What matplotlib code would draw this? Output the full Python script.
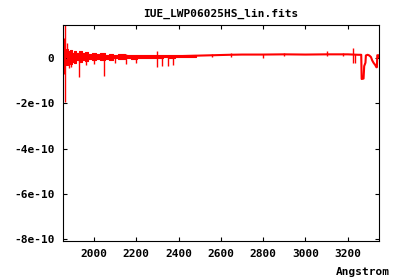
import numpy as np
import matplotlib
matplotlib.use("Agg")
import matplotlib.pyplot as plt

# overall trend of the spectrum (flux in units of 1e-10)
wave = [1852, 1900, 2000, 2100, 2200, 2300, 2400, 2480, 2560, 2640, 2700,
        2800, 2900, 3000, 3100, 3200, 3250, 3264, 3266, 3275, 3278, 3284,
        3286, 3294, 3302, 3310, 3316, 3322, 3330, 3336, 3338, 3340, 3346,
        3349]
flux = [0.05, 0.05, 0.08, 0.08, 0.07, 0.08, 0.09, 0.11, 0.13, 0.15, 0.16,
        0.16, 0.17, 0.16, 0.17, 0.17, 0.15, 0.15, -0.92, -0.9, -0.35, -0.2,
        0.12, 0.15, 0.12, 0.05, -0.1, -0.2, -0.3, -0.4, -0.4, 0.13, 0.13,
        0.05]

# envelope of the noisy band on the blue side
band_w = [1852, 1860, 1870, 1880, 1890, 1900, 1910, 1920, 1935, 1950, 1965,
          1980, 2000, 2020, 2040, 2060, 2080, 2100, 2130, 2160, 2190, 2220,
          2250, 2280, 2310, 2340, 2370, 2400, 2440, 2480]
band_hi = [0.45, 0.3, 0.4, 0.3, 0.35, 0.25, 0.3, 0.25, 0.3, 0.22, 0.27, 0.2,
           0.25, 0.18, 0.22, 0.16, 0.2, 0.15, 0.18, 0.14, 0.16, 0.13, 0.15,
           0.12, 0.14, 0.12, 0.13, 0.12, 0.12, 0.12]
band_lo = [-0.5, -0.2, -0.3, -0.15, -0.25, -0.15, -0.2, -0.1, -0.15, -0.08,
           -0.12, -0.05, -0.1, -0.03, -0.08, -0.02, -0.06, 0.0, -0.04, 0.0,
           -0.03, 0.02, 0.0, 0.03, 0.01, 0.04, 0.03, 0.05, 0.05, 0.06]

# single-pixel spikes
spike_w = [1856, 1863, 1872, 1880, 1890, 1929, 1960, 2000, 2047, 2100, 2150,
           2200, 2298, 2322, 2350, 2374, 2560, 2650, 2799, 2900, 3102, 3180,
           3224, 3234]
spike_lo = [-0.7, -1.95, -0.3, -0.45, -0.4, -0.83, -0.3, -0.25, -0.79, -0.2,
            -0.25, -0.2, -0.4, -0.35, -0.35, -0.3, 0.05, 0.05, 0.0, 0.1, 0.1,
            0.1, -0.2, -0.2]
spike_hi = [0.9, 1.6, 0.65, 0.3, 0.3, 0.2, 0.2, 0.2, 0.1, 0.15, 0.2, 0.15,
            0.3, 0.1, 0.1, 0.1, 0.2, 0.22, 0.17, 0.22, 0.3, 0.22, 0.44, 0.17]

xticks = [2000, 2200, 2400, 2600, 2800, 3000, 3200]
yticks = [0, -2e-10, -4e-10, -6e-10, -8e-10]
ylabels = ["0", "-2e-10", "-4e-10", "-6e-10", "-8e-10"]

plt.rcParams['font.family'] = 'DejaVu Sans Mono'
plt.rcParams['font.weight'] = 'bold'
plt.rcParams['font.size'] = 8

fig = plt.figure(figsize=(4, 2.8), dpi=100)
ax = fig.add_axes([0.157, 0.140, 0.791, 0.771])

s = 1e-10
ax.plot(wave, np.array(flux) * s, color='red', lw=1.5)
ax.fill_between(band_w, np.array(band_lo) * s, np.array(band_hi) * s,
                color='red', lw=0.8, step='mid')
ax.vlines(spike_w, np.array(spike_lo) * s, np.array(spike_hi) * s,
          color='red', lw=1.0)

ax.set_xlim(1852, 3349)
ax.set_ylim(-8.07e-10, 1.47e-10)
ax.set_xticks(xticks)
ax.set_yticks(yticks)
ax.set_yticklabels(ylabels)
ax.tick_params(direction='in', length=3, width=0.8, top=True, right=True,
               pad=6)
for sp in ax.spines.values():
    sp.set_linewidth(0.8)

ax.set_title('IUE_LWP06025HS_lin.fits', fontsize=8, fontweight='bold', pad=6)
fig.text(0.975, 0.03, 'Angstrom', ha='right', va='center', fontsize=8,
         fontweight='bold')

fig.savefig('out.png', dpi=100)
